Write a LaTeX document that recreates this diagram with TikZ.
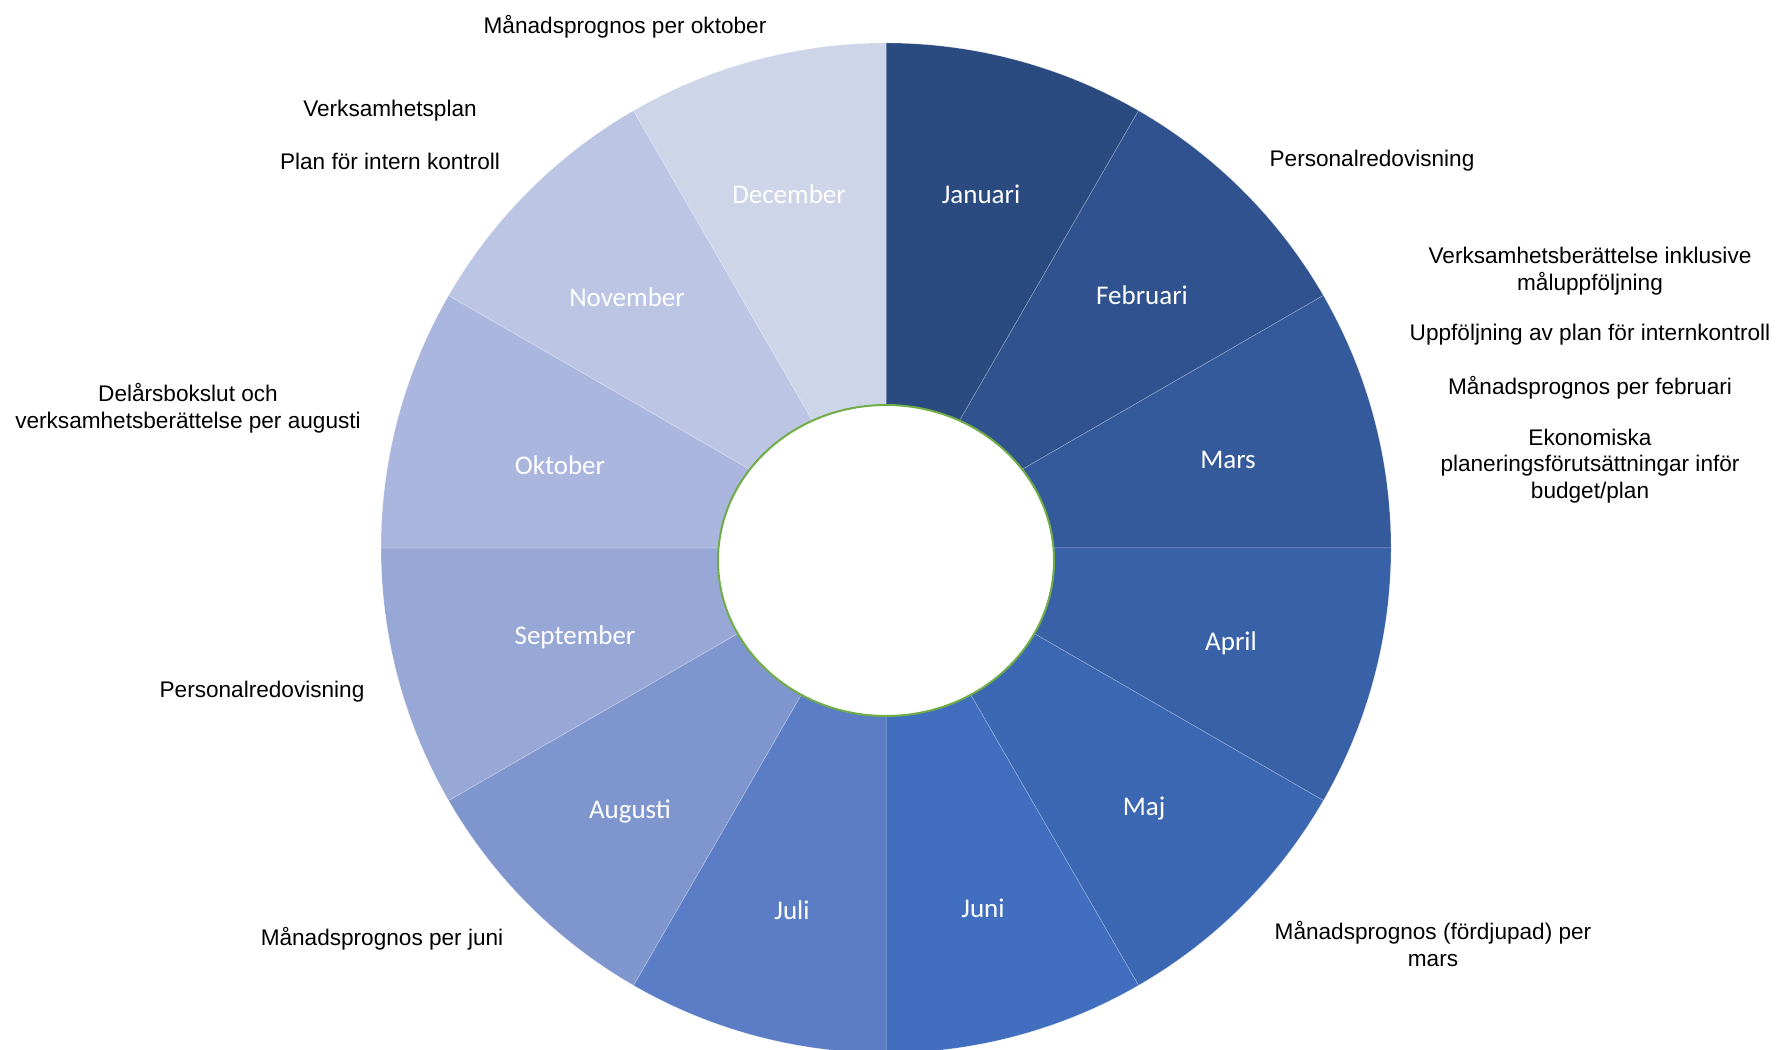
\documentclass[tikz,border=0pt]{standalone}
\usepackage{fontspec}
\setmainfont{Liberation Sans}
\newfontfamily\monthfont{Carlito}
\usetikzlibrary{positioning}

\definecolor{janblue}{HTML}{2B4A7F}
\definecolor{febblue}{HTML}{30528E}
\definecolor{marblue}{HTML}{345A9C}
\definecolor{aprblue}{HTML}{3861A8}
\definecolor{majblue}{HTML}{3C68B3}
\definecolor{junblue}{HTML}{416EBF}
\definecolor{julblue}{HTML}{5A7DC6}
\definecolor{augblue}{HTML}{7F95CE}
\definecolor{sepblue}{HTML}{97A8D6}
\definecolor{oktblue}{HTML}{AAB6DD}
\definecolor{novblue}{HTML}{BCC5E3}
\definecolor{decblue}{HTML}{CED5E9}
\definecolor{holegreen}{HTML}{70AD47}

\begin{document}
\begin{tikzpicture}[
  x=0.5pt, y=0.5pt,
  slice/.style = {draw=white, draw opacity=0.35, line width=0.25pt},
  month/.style = {text=white, inner sep=0pt, font=\monthfont\fontsize{13.5}{16}\selectfont},
  note/.style  = {align=center, inner sep=0pt, font=\fontsize{11.3}{13.3}\selectfont},
  hole/.style  = {draw=holegreen, line width=1pt, fill=white}
]
  \useasboundingbox (0,0) rectangle (1776,1049);

  % centre of the wheel
  \coordinate (mid) at (886,501);

  % month slices, clockwise from the top
  \filldraw[slice, fill=janblue] (mid) -- ++(90:505) arc[start angle=90, end angle=60, radius=505] -- cycle;
  \filldraw[slice, fill=febblue] (mid) -- ++(60:505) arc[start angle=60, end angle=30, radius=505] -- cycle;
  \filldraw[slice, fill=marblue] (mid) -- ++(30:505) arc[start angle=30, end angle=0, radius=505] -- cycle;
  \filldraw[slice, fill=aprblue] (mid) -- ++(0:505) arc[start angle=0, end angle=-30, radius=505] -- cycle;
  \filldraw[slice, fill=majblue] (mid) -- ++(-30:505) arc[start angle=-30, end angle=-60, radius=505] -- cycle;
  \filldraw[slice, fill=junblue] (mid) -- ++(-60:505) arc[start angle=-60, end angle=-90, radius=505] -- cycle;
  \filldraw[slice, fill=julblue] (mid) -- ++(-90:505) arc[start angle=-90, end angle=-120, radius=505] -- cycle;
  \filldraw[slice, fill=augblue] (mid) -- ++(-120:505) arc[start angle=-120, end angle=-150, radius=505] -- cycle;
  \filldraw[slice, fill=sepblue] (mid) -- ++(-150:505) arc[start angle=-150, end angle=-180, radius=505] -- cycle;
  \filldraw[slice, fill=oktblue] (mid) -- ++(180:505) arc[start angle=180, end angle=150, radius=505] -- cycle;
  \filldraw[slice, fill=novblue] (mid) -- ++(150:505) arc[start angle=150, end angle=120, radius=505] -- cycle;
  \filldraw[slice, fill=decblue] (mid) -- ++(120:505) arc[start angle=120, end angle=90, radius=505] -- cycle;

  % white hole in the middle
  \draw[hole] (886,488.5) ellipse [x radius=168, y radius=155.5];

  % month names
  \node[month] (jan) at (981,855) {Januari};
  \node[month] (feb) at (1142,754) {Februari};
  \node[month] (mar) at (1228,589) {Mars};
  \node[month] (apr) at (1231,406) {April};
  \node[month] (maj) at (1144,240) {Maj};
  \node[month] (jun) at (983,141) {Juni};
  \node[month] (jul) at (792,139) {Juli};
  \node[month] (aug) at (630,238) {Augusti};
  \node[month] (sep) at (575,412) {September};
  \node[month] (okt) at (560,584) {Oktober};
  \node[month] (nov) at (627,752) {November};
  \node[month] (dec) at (789,855) {December};

  % notes on the right
  \node[note] (persright) at (1372,888) {Personalredovisning};
  \node[note] (vbinkl) at (1590,778) {Verksamhetsberättelse inklusive\\måluppföljning};
  \node[note] (uppfik) at (1590,714) {Uppföljning av plan för internkontroll};
  \node[note] (progfeb) at (1590,661) {Månadsprognos per februari};
  \node[note] (ekoplan) at (1590,583) {Ekonomiska\\planeringsförutsättningar inför\\budget/plan};
  \node[note] (progmars) at (1433,105) {Månadsprognos (fördjupad) per\\mars};

  % notes on the left
  \node[note] (progokt) at (625,1022) {Månadsprognos per oktober};
  \node[note] (vplan) at (390,938) {Verksamhetsplan};
  \node[note] (ikplan) at (390,888) {Plan för intern kontroll};
  \node[note] (delars) at (188,641) {Delårsbokslut och\\verksamhetsberättelse per augusti};
  \node[note] (persleft) at (262,357) {Personalredovisning};
  \node[note] (progjuni) at (382,110) {Månadsprognos per juni};

\end{tikzpicture}
\end{document}
